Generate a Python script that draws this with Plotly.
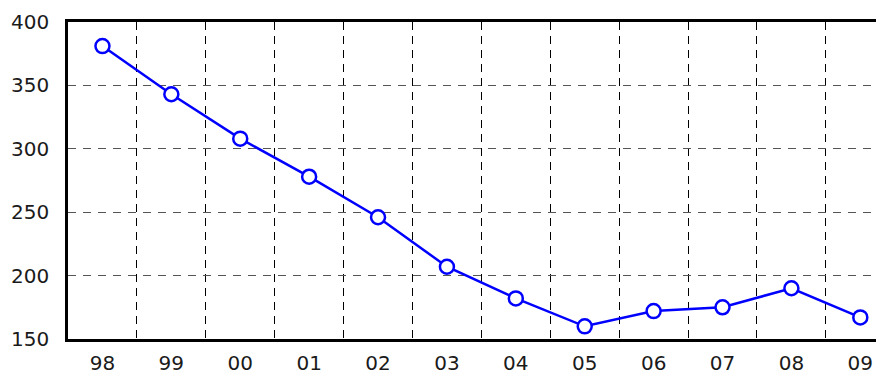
import plotly.graph_objects as go

years = ["98", "99", "00", "01", "02", "03", "04", "05", "06", "07", "08", "09"]
values = [381, 343, 308, 278, 246, 207, 182, 160, 172, 175, 190, 167]
y_ticks = [150, 200, 250, 300, 350, 400]

xpos = list(range(len(years)))

fig = go.Figure()
fig.add_trace(go.Scatter(
    x=xpos, y=values, mode="lines+markers",
    line=dict(color="#0000ff", width=2.5),
    marker=dict(symbol="circle", size=14, color="white",
                line=dict(color="#0000ff", width=2.5)),
    showlegend=False, cliponaxis=False,
))

# page body has an 8px default margin; margins are offset to compensate
fig.update_layout(
    width=884, height=372,
    margin=dict(l=60, r=0, t=14, b=41),
    paper_bgcolor="white", plot_bgcolor="white",
    font=dict(family="DejaVu Sans", size=20, color="#1a1a1a"),
    xaxis=dict(
        range=[-0.5, 11.46], tickmode="array", tickvals=xpos, ticktext=years,
        showgrid=False, zeroline=False, automargin=False,
        showline=True, linecolor="black", linewidth=2.5, mirror=True,
        ticks="outside", ticklen=4, tickcolor="rgba(0,0,0,0)",
        minor=dict(tickvals=[i + 0.5 for i in xpos], showgrid=True,
                   gridcolor="black", gridwidth=1.2, griddash="8px,6px"),
    ),
    yaxis=dict(
        range=[150, 400], tickmode="array", tickvals=y_ticks,
        showgrid=True, gridcolor="#555555", gridwidth=1.2, griddash="8px,7px",
        zeroline=False, showline=True, linecolor="black", linewidth=2.5,
        mirror=True, automargin=False,
        ticks="outside", ticklen=12, tickcolor="rgba(0,0,0,0)",
    ),
)

fig.write_html("out.html")
